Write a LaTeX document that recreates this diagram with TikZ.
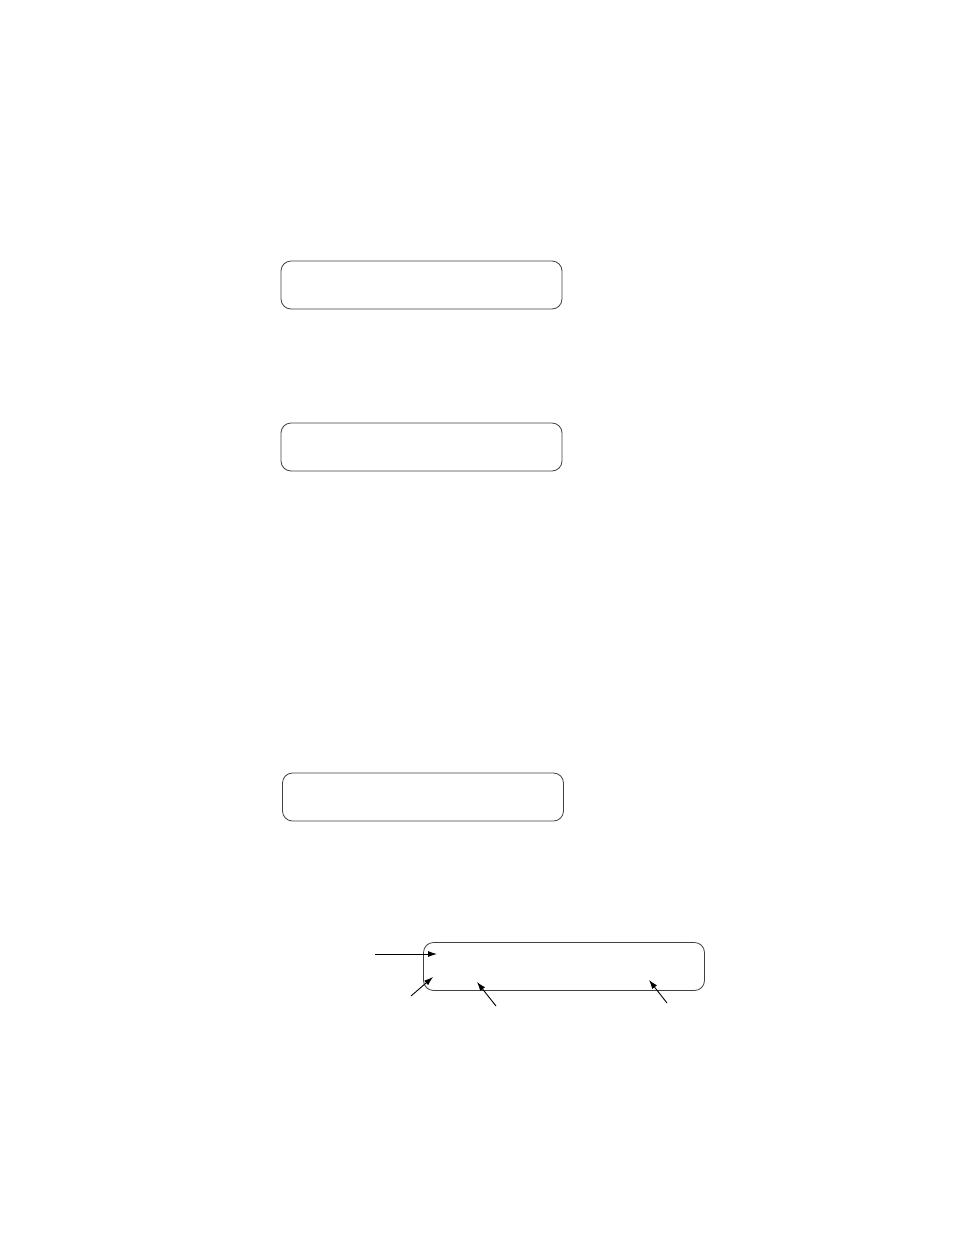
\documentclass[tikz,border=0pt]{standalone}
\usetikzlibrary{arrows.meta}
\begin{document}
\begin{tikzpicture}[x=1pt,y=-1pt,
  roundbox/.style={draw=black!75,line width=0.8pt,rounded corners=10pt,minimum width=281pt,minimum height=48pt,inner sep=0pt},
  pointer/.style={draw=black,line width=0.9pt,-{Latex[length=9pt,width=6pt]}}]
\useasboundingbox (0,0) rectangle (954,1235);
\node[roundbox] (b1) at (421.5,285) {};
\node[roundbox] (b2) at (421.5,447) {};
\node[roundbox] (b3) at (423,797) {};
\node[roundbox] (b4) at (564,966.5) {};
\coordinate (s1) at (375,954);
\coordinate (t1) at (437,954);
\coordinate (s2) at (411,996);
\coordinate (t2) at (433,977);
\coordinate (s3) at (496,1006);
\coordinate (t3) at (477,982);
\coordinate (s4) at (667,1003);
\coordinate (t4) at (649,980);
\draw[pointer] (s1) -- (t1);
\draw[pointer] (s2) -- (t2);
\draw[pointer] (s3) -- (t3);
\draw[pointer] (s4) -- (t4);
\end{tikzpicture}
\end{document}
